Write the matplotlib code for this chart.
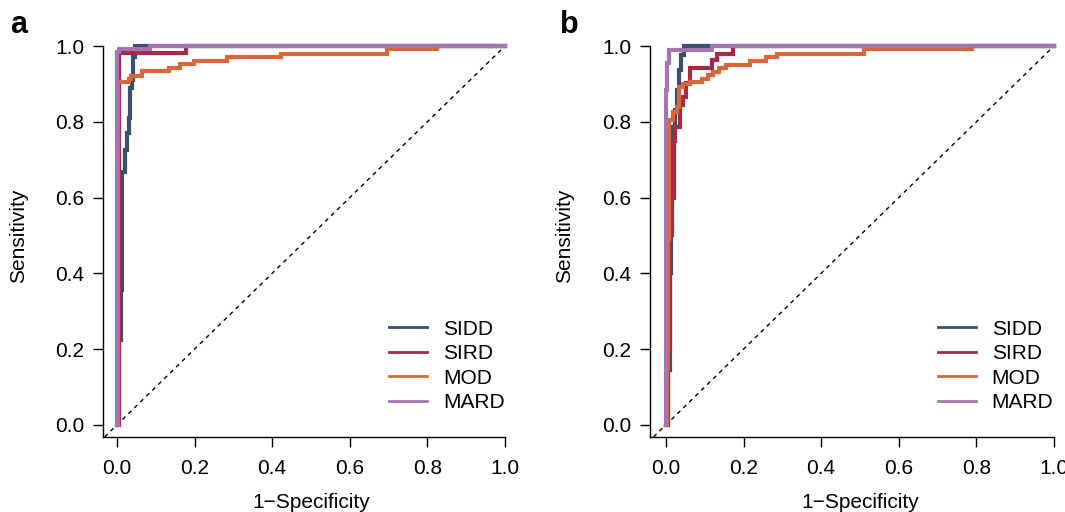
#!/usr/bin/env python3
import matplotlib
matplotlib.use("Agg")
import matplotlib.pyplot as plt

plt.rcParams['font.family'] = ['Liberation Sans', 'DejaVu Sans']

# ROC step vertices (1-specificity, sensitivity); at each x the curve rises to y
labels = ["SIDD", "SIRD", "MOD", "MARD"]
colors = ["#38506f", "#a62a45", "#d9673a", "#a475b3"]

# panel a
a_sidd_x = [0, 0.003, 0.006, 0.010, 0.014, 0.021, 0.025, 0.030, 0.034, 0.038, 0.042, 0.046, 1.0]
a_sidd_y = [0, 0.020, 0.224, 0.356, 0.668, 0.725, 0.770, 0.810, 0.889, 0.910, 0.972, 1.0, 1.0]
a_sird_x = [0, 0.004, 0.178, 1.0]
a_sird_y = [0, 0.982, 1.0, 1.0]
a_mod_x = [0, 0.003, 0.030, 0.035, 0.064, 0.134, 0.162, 0.198, 0.283, 0.424, 0.695, 0.824, 1.0]
a_mod_y = [0, 0.905, 0.913, 0.921, 0.933, 0.941, 0.952, 0.961, 0.972, 0.980, 0.991, 1.0, 1.0]
a_mard_x = [0, 0.001, 0.005, 0.085, 1.0]
a_mard_y = [0, 0.985, 0.992, 1.0, 1.0]

# panel b
b_sidd_x = [0, 0.006, 0.010, 0.013, 0.017, 0.023, 0.028, 0.034, 0.040, 0.047, 1.0]
b_sidd_y = [0, 0.145, 0.400, 0.630, 0.787, 0.831, 0.884, 0.937, 0.976, 1.0, 1.0]
b_sird_x = [0, 0.005, 0.010, 0.015, 0.020, 0.023, 0.036, 0.045, 0.052, 0.062, 0.118, 0.131, 0.174, 1.0]
b_sird_y = [0, 0.200, 0.500, 0.600, 0.750, 0.787, 0.844, 0.866, 0.902, 0.941, 0.963, 0.980, 1.0, 1.0]
b_mod_x = [0, 0.003, 0.006, 0.009, 0.017, 0.028, 0.034, 0.045, 0.062, 0.092, 0.108, 0.121, 0.137,
           0.155, 0.216, 0.259, 0.285, 0.510, 0.788, 1.0]
b_mod_y = [0, 0.150, 0.490, 0.805, 0.827, 0.840, 0.893, 0.901, 0.906, 0.912, 0.923, 0.932, 0.941,
           0.950, 0.961, 0.972, 0.980, 0.991, 1.0, 1.0]
b_mard_x = [0, 0, 0.002, 0.008, 0.118, 1.0]
b_mard_y = [0, 0.884, 0.954, 0.989, 1.0, 1.0]

ticks = [0.0, 0.2, 0.4, 0.6, 0.8, 1.0]
tick_labels = ["0.0", "0.2", "0.4", "0.6", "0.8", "1.0"]

FS = 15


def draw_panel(ax, curves, xmin, letter, letter_x):
    ax.axline((0, 0), slope=1, color="black", lw=1, ls=(0, (3, 3)))
    for (xs, ys), lab, col in zip(curves, labels, colors):
        ax.plot(xs, ys, drawstyle="steps-post", color=col, lw=3.0,
                label=lab, clip_on=False, solid_joinstyle="miter")
    ax.set_xlim(xmin, 1.0)
    ax.set_ylim(-0.032, 1.0)
    for s in ["top", "right"]:
        ax.spines[s].set_visible(False)
    for s in ["left", "bottom"]:
        ax.spines[s].set_linewidth(1.0)
    ax.set_xticks(ticks)
    ax.set_xticklabels(tick_labels)
    ax.set_yticks(ticks)
    ax.set_yticklabels(tick_labels)
    ax.tick_params(direction="out", length=7.5, width=1.0, pad=6, labelsize=FS)
    ax.tick_params(axis="x", pad=8)
    ax.set_xlabel("1\u2212Specificity", fontsize=FS)
    ax.set_ylabel("Sensitivity", fontsize=FS)
    ax.xaxis.set_label_coords((0.5 - xmin) / (1 - xmin), -0.143)
    ax.yaxis.set_label_coords(-0.187, (0.5 + 0.032) / 1.032)
    leg = ax.legend(loc="upper left", bbox_to_anchor=((0.70 - xmin) / (1 - xmin), 0.30),
                    frameon=False, fontsize=FS, handlelength=1.85, handletextpad=0.75,
                    labelspacing=0.26, borderpad=0, borderaxespad=0)
    for ln in leg.get_lines():
        ln.set_linewidth(2.0)
    ax.figure.text(letter_x, 1 - 33 / 512, letter, fontsize=22, fontweight="bold",
                   va="baseline", ha="left")


def main():
    fig = plt.figure(figsize=(10.65, 5.12), dpi=100)
    ax_a = fig.add_axes([103 / 1065, 75 / 512, 402 / 1065, 391 / 512])
    ax_b = fig.add_axes([650 / 1065, 75 / 512, 404 / 1065, 391 / 512])

    curves_a = [(a_sidd_x, a_sidd_y), (a_sird_x, a_sird_y), (a_mod_x, a_mod_y), (a_mard_x, a_mard_y)]
    curves_b = [(b_sidd_x, b_sidd_y), (b_sird_x, b_sird_y), (b_mod_x, b_mod_y), (b_mard_x, b_mard_y)]

    draw_panel(ax_a, curves_a, -0.036, "a", 10 / 1065)
    draw_panel(ax_b, curves_b, -0.041, "b", 560 / 1065)

    fig.savefig("out.png", dpi=100)


if __name__ == "__main__":
    main()
